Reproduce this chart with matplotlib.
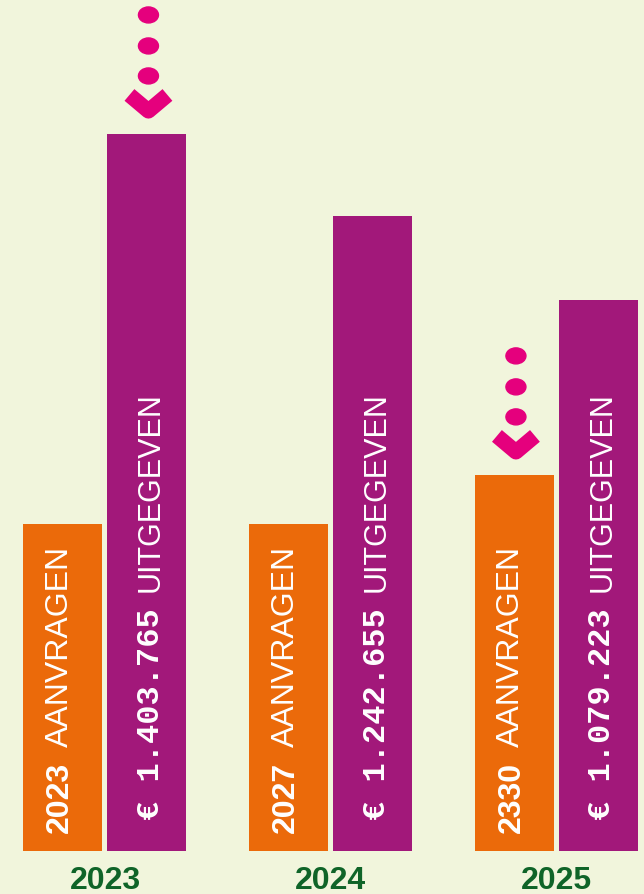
import matplotlib.pyplot as plt
from matplotlib.patches import Ellipse
from matplotlib.lines import Line2D

jaren = ["2023", "2024", "2025"]
aanvragen = [2023, 2027, 2330]
uitgegeven = [1403765, 1242655, 1079223]
bedrag_labels = ["€ 1.403.765", "€ 1.242.655", "€ 1.079.223"]

achtergrond = "#f1f5dc"
oranje = "#eb6a0a"
paars = "#a2187a"
roze = "#e5007d"
groen = "#0f6428"

W, H = 644, 894
fig = plt.figure(figsize=(W / 100, H / 100), dpi=100, facecolor=achtergrond)
ax = fig.add_axes([0, 43 / H, 1, 851 / H])
ax.set_facecolor(achtergrond)
ax2 = ax.twinx()
ax2.patch.set_visible(False)

x = [0, 1, 2]
breedte = 0.35
xo = [i - 0.186 for i in x]
xp = [i + 0.186 for i in x]

ax2.bar(xo, aanvragen, width=breedte, color=oranje)
ax.bar(xp, uitgegeven, width=breedte, color=paars)

ax.set_xlim(-0.465, 2.388)
ax.set_ylim(0, 1666000)
ax2.set_ylim(0, 5272)

for a in (ax, ax2):
    for s in a.spines.values():
        s.set_visible(False)
    a.set_yticks([])
ax.set_xticks(x, jaren)
ax.tick_params(axis="x", length=0, pad=10.5)
for t in ax.get_xticklabels():
    t.set_fontfamily("Liberation Sans")
    t.set_fontweight("bold")
    t.set_fontsize(23)
    t.set_color(groen)

# teksten in de balken
for i in x:
    t0 = ax2.annotate(str(aanvragen[i]), xy=(xo[i], 0), xytext=(-3, 18),
                      textcoords="offset pixels", rotation=90, ha="center", va="bottom",
                      color="white", fontsize=23, family="Liberation Sans", weight="bold")
    ax2.annotate("AANVRAGEN", xy=(0.5, 1), xycoords=t0, xytext=(0, 15),
                 textcoords="offset pixels", rotation=90, ha="center", va="bottom",
                 color="white", fontsize=23, family="Liberation Sans")
    t1 = ax2.annotate(bedrag_labels[i], xy=(xp[i], 0), xytext=(4, 31),
                      textcoords="offset pixels", rotation=90, ha="center", va="bottom",
                      color="white", fontsize=23, family="Liberation Mono", weight="bold")
    ax2.annotate("UITGEGEVEN", xy=(0.5, 1), xycoords=t1, xytext=(0, 16),
                 textcoords="offset pixels", rotation=90, ha="center", va="bottom",
                 color="white", fontsize=22, family="Liberation Sans")


def pijl(a, xb, top):
    bx, by = a.transData.transform((xb, top))
    bx += 1.5
    for dy in (58, 88, 119):
        fig.add_artist(Ellipse((bx / W, (by + dy) / H), 20 / W, 16 / H,
                               color=roze, transform=fig.transFigure))
    fig.add_artist(Line2D([(bx - 19) / W, bx / W, (bx + 19) / W],
                          [(by + 39) / H, (by + 23) / H, (by + 39) / H],
                          lw=11, color=roze, solid_joinstyle="round",
                          solid_capstyle="butt", transform=fig.transFigure))


pijl(ax, xp[0], uitgegeven[0])
pijl(ax2, xo[2], aanvragen[2])

fig.savefig("out.png", dpi=100, facecolor=achtergrond)
